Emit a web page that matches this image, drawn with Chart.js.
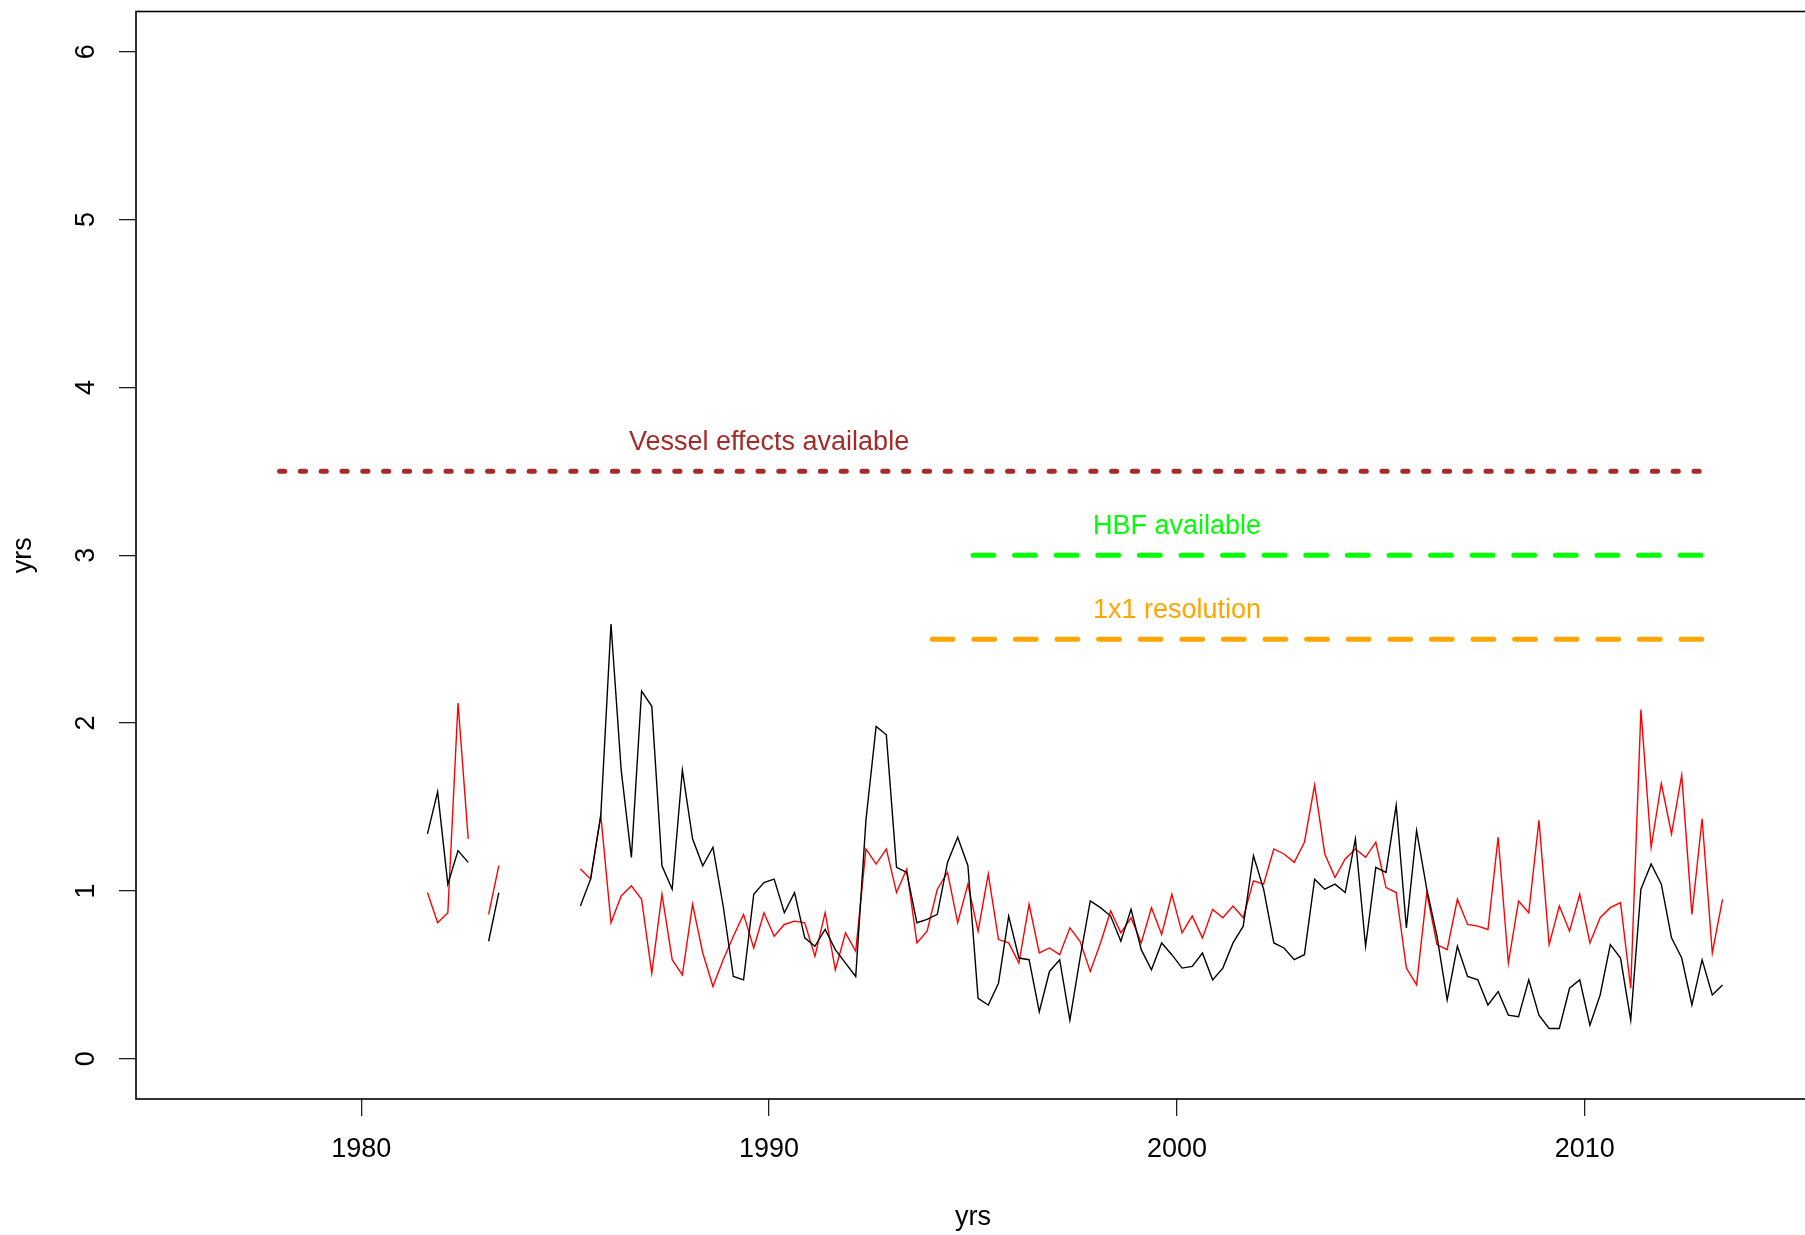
<!DOCTYPE html>
<html>
<head>
<meta charset="utf-8">
<script src="https://cdn.jsdelivr.net/npm/chart.js@4.4.1/dist/chart.umd.min.js"></script>
<style>
  html, body { margin: 0; padding: 0; background: #fff; overflow: hidden; }
  canvas { display: block; }
</style>
</head>
<body>
<canvas id="myChart" width="1830" height="1235"></canvas>
<script>
// quarterly series, first point = 1981 Q3 (plotted at mid quarter)
const firstQuarter = 1981.625;
const quarterStep = 0.25;

const blackValues = [
  1.34, 1.59, 1.04, 1.24, 1.17, null, 0.70, 0.99,
  null, null, null, null, null, null, null,
  0.91, 1.07, 1.45, 2.59, 1.72, 1.20, 2.19, 2.10, 1.15, 1.01,
  1.72, 1.31, 1.15, 1.26, 0.91, 0.49, 0.47, 0.98, 1.05, 1.07,
  0.87, 0.99, 0.72, 0.67, 0.77, 0.65, 0.57, 0.49, 1.42, 1.98,
  1.93, 1.14, 1.11, 0.81, 0.83, 0.86, 1.17, 1.32, 1.15, 0.36,
  0.32, 0.45, 0.85, 0.60, 0.59, 0.28, 0.52, 0.59, 0.23, 0.60,
  0.94, 0.90, 0.85, 0.70, 0.89, 0.65, 0.53, 0.69, 0.62, 0.54,
  0.55, 0.63, 0.47, 0.54, 0.69, 0.79, 1.21, 1.01, 0.69, 0.66,
  0.59, 0.62, 1.07, 1.01, 1.04, 0.99, 1.31, 0.67, 1.14, 1.11,
  1.51, 0.78, 1.36, 1.01, 0.73, 0.35, 0.67, 0.49, 0.47, 0.32,
  0.40, 0.26, 0.25, 0.47, 0.26, 0.18, 0.18, 0.42, 0.47, 0.20,
  0.38, 0.68, 0.60, 0.23, 1.01, 1.16, 1.04, 0.72, 0.60, 0.32,
  0.59, 0.38, 0.44
];

const redValues = [
  0.99, 0.81, 0.87, 2.12, 1.31, null, 0.86, 1.15,
  null, null, null, null, null, null, null,
  1.13, 1.07, 1.45, 0.81, 0.97, 1.03, 0.95, 0.51, 0.98, 0.59,
  0.50, 0.92, 0.63, 0.43, 0.59, 0.73, 0.86, 0.66, 0.87, 0.73,
  0.80, 0.82, 0.81, 0.61, 0.87, 0.53, 0.75, 0.64, 1.25, 1.16,
  1.25, 0.99, 1.13, 0.69, 0.76, 1.01, 1.11, 0.81, 1.04, 0.76,
  1.10, 0.71, 0.69, 0.57, 0.92, 0.63, 0.66, 0.62, 0.78, 0.70,
  0.52, 0.69, 0.88, 0.75, 0.84, 0.69, 0.90, 0.74, 0.98, 0.75,
  0.85, 0.72, 0.89, 0.84, 0.91, 0.84, 1.06, 1.04, 1.25, 1.22,
  1.17, 1.29, 1.63, 1.22, 1.08, 1.19, 1.25, 1.20, 1.29, 1.02,
  0.99, 0.54, 0.44, 0.99, 0.68, 0.65, 0.95, 0.80, 0.79, 0.77,
  1.32, 0.57, 0.94, 0.87, 1.42, 0.68, 0.91, 0.76, 0.98, 0.69,
  0.84, 0.90, 0.93, 0.42, 2.08, 1.26, 1.64, 1.34, 1.69, 0.86,
  1.43, 0.63, 0.95
];

const xTicks = [1980, 1990, 2000, 2010];
const yTicks = [0, 1, 2, 3, 4, 5, 6];

// availability markers
const markerNames = ['Vessel effects available', 'HBF available', '1x1 resolution'];
const markerLevels = [3.5, 3, 2.5];
const markerStarts = [1978, 1995, 1994];
const markerEnd = 2013;
const labelYears = [1990, 2000, 2000];
const labelLevels = [3.67, 3.17, 2.67];

const markerColors = ['#a52a2a', '#00ff00', '#ffa500'];
const markerDashes = [[5.2, 15.6], [20.8, 20.8], [20.8, 20.8]];
const FONT = '"Liberation Sans", Arial, sans-serif';

const times = blackValues.map((v, i) => firstQuarter + i * quarterStep);
const toPoints = vals => vals.map((v, i) => ({ x: times[i], y: v }));

const datasets = markerNames.map((name, i) => ({
  label: name,
  data: [{ x: markerStarts[i], y: markerLevels[i] }, { x: markerEnd, y: markerLevels[i] }],
  borderColor: markerColors[i],
  borderWidth: 5,
  borderDash: markerDashes[i],
  borderCapStyle: 'round',
  pointRadius: 0
}));
datasets.push({
  label: 'black',
  data: toPoints(blackValues),
  borderColor: '#000',
  borderWidth: 1.4,
  spanGaps: false,
  pointRadius: 0
});
datasets.push({
  label: 'red',
  data: toPoints(redValues),
  borderColor: '#ff0000',
  borderWidth: 1.4,
  spanGaps: false,
  pointRadius: 0
});

// box around the plot + the text labels above the markers
const extras = {
  id: 'extras',
  afterDatasetsDraw(chart) {
    const { ctx, chartArea: a, scales: { x, y } } = chart;
    ctx.save();
    ctx.strokeStyle = '#000';
    ctx.lineWidth = 1.6;
    ctx.strokeRect(a.left, a.top, a.right - a.left, a.bottom - a.top);
    ctx.font = '27px ' + FONT;
    ctx.textAlign = 'center';
    ctx.textBaseline = 'middle';
    markerNames.forEach((t, i) => {
      ctx.fillStyle = markerColors[i];
      ctx.fillText(t, x.getPixelForValue(labelYears[i]), y.getPixelForValue(labelLevels[i]));
    });
    ctx.restore();
  }
};

// fixed axis sizes so the plot box sits where the original one does
function fixPad(s) {
  s.paddingTop = 0; s.paddingBottom = 0;
  s.paddingLeft = 0; s.paddingRight = 0;
}

new Chart('myChart', {
  type: 'line',
  data: { datasets },
  plugins: [extras],
  options: {
    responsive: false,
    animation: false,
    devicePixelRatio: 1,
    layout: { padding: { top: 11.5, right: 20, left: 0, bottom: 0 } },
    plugins: { legend: { display: false }, tooltip: { enabled: false } },
    elements: { line: { tension: 0 } },
    scales: {
      x: {
        type: 'linear',
        min: 1974.48,
        max: 2015.52,
        afterBuildTicks: s => { s.ticks = xTicks.map(v => ({ value: v })); },
        afterFit: s => { s.height = 136; fixPad(s); },
        grid: { drawOnChartArea: false, drawTicks: true, tickLength: 17, color: '#222', lineWidth: 1.3 },
        border: { display: false },
        ticks: { color: '#000', font: { family: FONT, size: 27 }, padding: 17, maxRotation: 0, callback: v => String(v) },
        title: { display: true, text: 'yrs', color: '#000', font: { family: FONT, size: 27 }, padding: { top: 0, bottom: 1 } }
      },
      y: {
        type: 'linear',
        min: -0.24,
        max: 6.24,
        afterBuildTicks: s => { s.ticks = yTicks.map(v => ({ value: v })); },
        afterFit: s => { s.width = 136; fixPad(s); },
        grid: { drawOnChartArea: false, drawTicks: true, tickLength: 17, color: '#222', lineWidth: 1.3 },
        border: { display: false },
        ticks: { color: '#000', font: { family: FONT, size: 27 }, padding: 25, minRotation: 90, maxRotation: 90, crossAlign: 'center', callback: v => String(v) },
        title: { display: true, text: 'yrs', color: '#000', font: { family: FONT, size: 27 }, padding: { top: 7, bottom: 0 } }
      }
    }
  }
});
</script>
</body>
</html>
